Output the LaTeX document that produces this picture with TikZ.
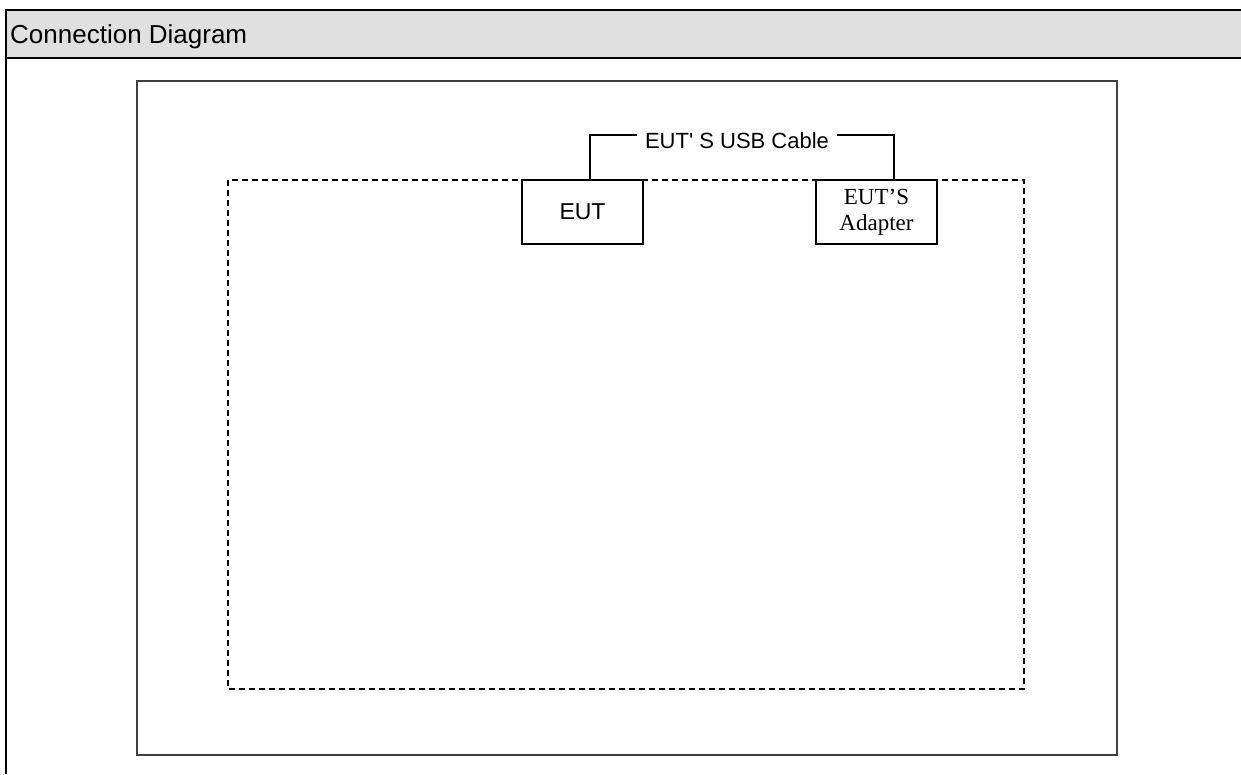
\documentclass[tikz,border=0pt]{standalone}
\usepackage{fontspec}
\setmainfont{Liberation Sans}
\newfontfamily\serifbox{Liberation Serif}
\usepackage{xcolor}
\definecolor{hdrgray}{HTML}{E0E0E0}
\definecolor{framegray}{HTML}{404040}

\begin{document}
\begin{tikzpicture}[x=1pt,y=-1pt,
    unitbox/.style={draw,fill=white,line width=1.4pt,minimum width=121pt,minimum height=64pt,inner sep=0pt},
    cable/.style={line width=1.6pt},
    lbl/.style={font=\fontsize{22}{26}\selectfont}]
  \useasboundingbox (0,0) rectangle (1241,774);
  % header band
  \fill[hdrgray] (6,10) rectangle (1241,58);
  \draw[line width=2.2pt] (1241,10) -- (6,10) -- (6,774);
  \draw[line width=2.2pt] (6,58) -- (1241,58);
  \node[anchor=base west,inner sep=0pt,font=\fontsize{26}{30}\selectfont] (title) at (10,43) {Connection Diagram};
  % test area
  \draw[framegray,line width=2pt] (137,81) rectangle (1117,755);
  \draw[line width=1.3pt,dash pattern=on 6pt off 4pt] (228,180) rectangle (1024,689);
  % units
  \node[unitbox,font=\fontsize{23}{27}\selectfont] (eut) at (582.5,212) {EUT};
  \node[unitbox,font=\serifbox\fontsize{23}{27}\selectfont,align=center] (adapter) at (876.5,212) {EUT’S\\[-1pt]Adapter};
  % cable
  \node[lbl,anchor=base,inner xsep=8pt,inner ysep=0pt] (usb) at (737,148) {EUT\textquotesingle{} S USB Cable};
  \coordinate (cableL) at (590,135);
  \coordinate (cableR) at (894,135);
  \draw[cable] (eut.north -| cableL) -- (cableL) -- (usb.west |- cableL);
  \draw[cable] (usb.east |- cableR) -- (cableR) -- (adapter.north -| cableR);
\end{tikzpicture}
\end{document}
